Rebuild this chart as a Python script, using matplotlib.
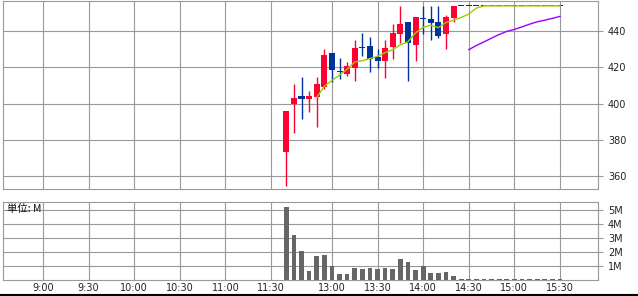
import matplotlib
matplotlib.use('Agg')
import matplotlib.pyplot as plt
from matplotlib.lines import Line2D

# ---------------- data ----------------
grid_times = ["9:00", "9:30", "10:00", "10:30", "11:00", "11:30",
              "13:00", "13:30", "14:00", "14:30", "15:00", "15:30"]

candle_times = ["12:30", "12:35", "12:40", "12:45", "12:50", "12:55",
                "13:00", "13:05", "13:10", "13:15", "13:20", "13:25",
                "13:30", "13:35", "13:40", "13:45", "13:50", "13:55",
                "14:00", "14:05", "14:10", "14:15", "14:20", "14:25",
                "14:30", "14:35", "14:40", "14:45", "14:50", "14:55",
                "15:00", "15:05", "15:10", "15:15", "15:20", "15:25", "15:30"]

opens = [373.5, 399.5, 404.3, 402.8, 403.9, 409.1, 428.0, 417.7, 416.6, 419.9,
         430.6, 431.9, 425.6, 423.6, 431.3, 438.5, 445.2, 432.4, 446.6, 446.8,
         445.2, 438.5, 447.4,
         454, 454, 454, 454, 454, 454, 454, 454, 454, 454, 454, 454, 454, 454]
highs = [396.0, 410.9, 414.8, 407.0, 414.8, 430.2, 428.0, 425.3, 423.1, 435.2,
         439.1, 436.9, 430.2, 435.2, 444.1, 454.0, 445.2, 447.9, 454.0, 454.0,
         454.0, 449.0, 454.0,
         454, 454, 454, 454, 454, 454, 454, 454, 454, 454, 454, 454, 454, 454]
lows = [354.7, 383.5, 391.7, 395.6, 386.8, 408.0, 412.2, 413.8, 415.3, 412.6,
        426.4, 417.5, 419.9, 414.2, 424.7, 433.6, 412.6, 423.6, 438.5, 435.2,
        436.3, 430.2, 445.2,
        454, 454, 454, 454, 454, 454, 454, 454, 454, 454, 454, 454, 454, 454]
closes = [396.0, 403.2, 402.8, 404.3, 410.9, 426.9, 418.8, 417.7, 420.8, 430.8,
          430.6, 424.9, 423.6, 430.8, 439.1, 444.1, 433.6, 447.9, 446.6, 444.6,
          437.4, 447.9, 454.0,
          454, 454, 454, 454, 454, 454, 454, 454, 454, 454, 454, 454, 454, 454]

volumes_m = [5.15, 3.19, 2.06, 0.64, 1.70, 1.77, 0.99, 0.43, 0.43, 0.85,
             0.78, 0.85, 0.78, 0.85, 0.78, 1.49, 1.28, 0.71, 0.99, 0.50,
             0.50, 0.57, 0.28,
             0.06, 0.06, 0.06, 0.06, 0.06, 0.06, 0.06, 0.06, 0.06, 0.06,
             0.06, 0.06, 0.06, 0.10]

ma5_times = candle_times[4:]
ma5 = [403.4, 409.6, 412.8, 415.7, 419.0, 423.0, 423.7, 424.9, 426.1, 428.1,
       429.8, 432.5, 434.2, 439.1, 442.2, 443.3, 442.0, 444.8, 446.1, 447.6,
       449.5, 452.8, 454.0, 454.0, 454.0, 454.0, 454.0, 454.0, 454.0, 454.0,
       454.0, 454.0, 454.0]

ma25_times = candle_times[24:]
ma25 = [429.8, 432.1, 434.1, 436.2, 438.2, 439.9, 441.0, 442.4, 443.9, 445.2,
        446.1, 447.1, 448.2]

price_ticks = [360, 380, 400, 420, 440]
vol_ticks = [1, 2, 3, 4, 5]
vol_labels = ["1M", "2M", "3M", "4M", "5M"]


# ---------------- helpers ----------------
def slot(t):
    h, m = map(int, t.split(":"))
    mins = h * 60 + m
    if mins >= 12 * 60 + 30:
        return (mins - (12 * 60 + 30)) / 5 + 32
    return (mins - 9 * 60) / 5


W, H = 638, 296
GRID = '#999999'
RED = '#FF0033'
BLUE = '#003399'


def rect(l, t, r, b):
    return [l / W, 1 - b / H, (r - l) / W, (b - t) / H]


fig = plt.figure(figsize=(W / 100, H / 100), dpi=100)
ax = fig.add_axes(rect(3, 1, 598, 189))
axv = fig.add_axes(rect(3, 201.5, 598, 280), sharex=ax)

xs = [slot(t) for t in candle_times]

# candles
min_body = 0.55
for x, o, h, l, c in zip(xs, opens, highs, lows, closes):
    col = RED if c > o else BLUE
    if h > l:
        ax.vlines(x, l, h, color=col, lw=1.0, zorder=3)
    ax.bar(x, max(abs(c - o), min_body), bottom=min(o, c), width=0.79,
           color=col, linewidth=0, zorder=4)

ax.plot([slot(t) for t in ma5_times], ma5, color='#99CC00', lw=1.0, zorder=5)
ax.plot([slot(t) for t in ma25_times], ma25, color='#9900FF', lw=1.0, zorder=5)

# volume
axv.bar(xs, volumes_m, width=0.62, color='#666666', linewidth=0, zorder=3)

gx = [slot(t) for t in grid_times]
ax.set_xlim((3 - 43) / 7.603, (598 - 43) / 7.603)
ax.set_ylim(352.8, 456.7)
axv.set_ylim(0, 5.57)

for a in (ax, axv):
    a.set_xticks(gx)
    a.grid(True, color=GRID, lw=0.8, zorder=0)
    a.set_axisbelow(True)
    for s in a.spines.values():
        s.set_color(GRID)
        s.set_linewidth(0.8)
    a.yaxis.tick_right()
    a.tick_params(axis='y', direction='out', length=3.6, width=0.8,
                  color=GRID, labelsize=7, pad=3.6, labelcolor='#222222')

ax.set_yticks(price_ticks)
ax.tick_params(axis='x', length=0, labelbottom=False)

axv.set_yticks(vol_ticks)
axv.set_yticklabels(vol_labels)
axv.set_xticklabels(grid_times)
axv.tick_params(axis='x', length=0, labelsize=7, pad=2.5, labelcolor='#222222')

fig.text(7 / W, 1 - 209 / H, '単位: M', ha='left', va='center', fontsize=7.5,
         family=['Noto Sans CJK JP', 'DejaVu Sans'], color='#111111')

fig.add_artist(Line2D([0, 1], [1.5 / H, 1.5 / H], transform=fig.transFigure,
                      color='black', lw=1.5))

fig.savefig('out.png', dpi=100)
